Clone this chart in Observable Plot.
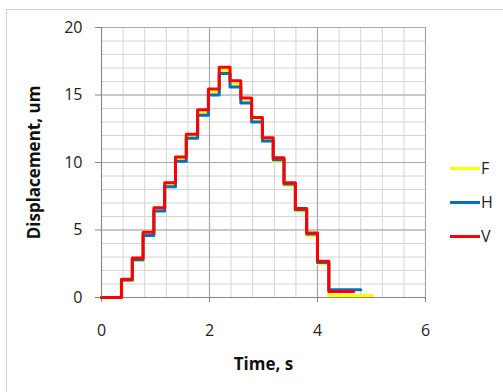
<!DOCTYPE html>
<html><head><meta charset="utf-8">
<script src="https://cdn.jsdelivr.net/npm/d3@7"></script>
<script src="https://cdn.jsdelivr.net/npm/@observablehq/plot@0.6"></script>
<style>
body{margin:0;background:#fff;font-family:"Open Sans",sans-serif;}
#wrap{position:relative;width:503px;height:392px;overflow:hidden;}
#border{position:absolute;left:6px;top:9px;width:520px;height:400px;border:1px solid #d0d0d0;box-sizing:border-box;}
#legend{position:absolute;left:450px;top:151px;font-size:16px;color:#222;}
#legend div{display:flex;align-items:center;height:34px;}
#legend span.sw{display:inline-block;width:30px;height:3px;margin-right:1px;}
svg [aria-label="y-axis label"], svg [aria-label="x-axis label"]{font-weight:bold;font-size:17px;fill:#111;}
</style></head>
<body><div id="wrap"><div id="border"></div><div id="chart"></div>
<div id="legend"></div></div>
<script>
// step start times (s)
const times = [0, 0.37, 0.57, 0.77, 0.97, 1.17, 1.37, 1.57, 1.78, 1.98, 2.18, 2.38, 2.58, 2.78, 2.98, 3.18, 3.38, 3.59, 3.80, 4.00, 4.21];
const seriesNames = ["F", "H", "V"];
const F = [0, 1.25, 2.75, 4.6, 6.45, 8.3, 10.2, 11.9, 13.7, 15.2, 16.8, 15.8, 14.5, 13.1, 11.6, 10.1, 8.3, 6.4, 4.6, 2.5, 0.15];
const H = [0, 1.30, 2.80, 4.6, 6.40, 8.2, 10.1, 11.8, 13.5, 15.0, 16.6, 15.6, 14.4, 13.0, 11.6, 10.2, 8.4, 6.5, 4.7, 2.6, 0.57];
const V = [0, 1.36, 2.92, 4.83, 6.64, 8.5, 10.4, 12.1, 13.9, 15.44, 17.05, 16.06, 14.77, 13.33, 11.84, 10.36, 8.5, 6.6, 4.78, 2.68, 0.45];
const endTimes = {F: 5.02, H: 4.8, V: 4.67};
const colors = ["#ffff00", "#0070c0", "#ff0000"];
const xTicks = [0, 2, 4, 6];
const yTicks = [0, 5, 10, 15, 20];
const xMinor = d3.range(0, 6.001, 0.4);
const yMinor = d3.range(0, 20.001, 1);

const values = {F, H, V};
const rows = [];
for (const s of seriesNames) {
  const v = values[s];
  times.forEach((t, i) => rows.push({s, t, v: v[i]}));
  rows.push({s, t: endTimes[s], v: v[v.length - 1]});
}

const plot = Plot.plot({
  width: 503, height: 392,
  marginLeft: 101, marginRight: 78, marginTop: 27, marginBottom: 95,
  style: {background: "transparent", fontFamily: "Open Sans, sans-serif", fontSize: "16px", color: "#222"},
  x: {domain: [0, 6]},
  y: {domain: [0, 20]},
  color: {domain: seriesNames, range: colors},
  marks: [
    Plot.ruleX(xMinor, {stroke: "#d4d4d4", strokeWidth: 1, strokeOpacity: 1}),
    Plot.ruleY(yMinor, {stroke: "#d4d4d4", strokeWidth: 1, strokeOpacity: 1}),
    Plot.ruleX(xTicks, {stroke: "#a8a8a8", strokeWidth: 1.2}),
    Plot.ruleY(yTicks, {stroke: "#a8a8a8", strokeWidth: 1.2}),
    Plot.ruleX([0], {stroke: "#888"}),
    Plot.ruleY([0], {stroke: "#888"}),
    Plot.axisX({ticks: xTicks, tickFormat: d3.format("d"), tickSize: 5, tickPadding: 22, stroke: "#888", label: "Time, s", labelAnchor: "center", labelArrow: "none", labelOffset: 72, fontSize: 16}),
    Plot.axisY({ticks: yTicks, tickFormat: d3.format("d"), tickSize: 6, tickPadding: 13, stroke: "#888", label: "Displacement, um", labelAnchor: "center", labelArrow: "none", labelOffset: 74, fontSize: 16}),
    Plot.line(rows, {x: "t", y: "v", z: "s", stroke: "s", strokeWidth: 3, curve: "step-after"})
  ]
});
document.getElementById("chart").appendChild(plot);

const leg = document.getElementById("legend");
seriesNames.forEach((s, i) => {
  const d = document.createElement("div");
  d.innerHTML = `<span class="sw" style="background:${colors[i]}"></span>${s}`;
  leg.appendChild(d);
});
</script></body></html>
